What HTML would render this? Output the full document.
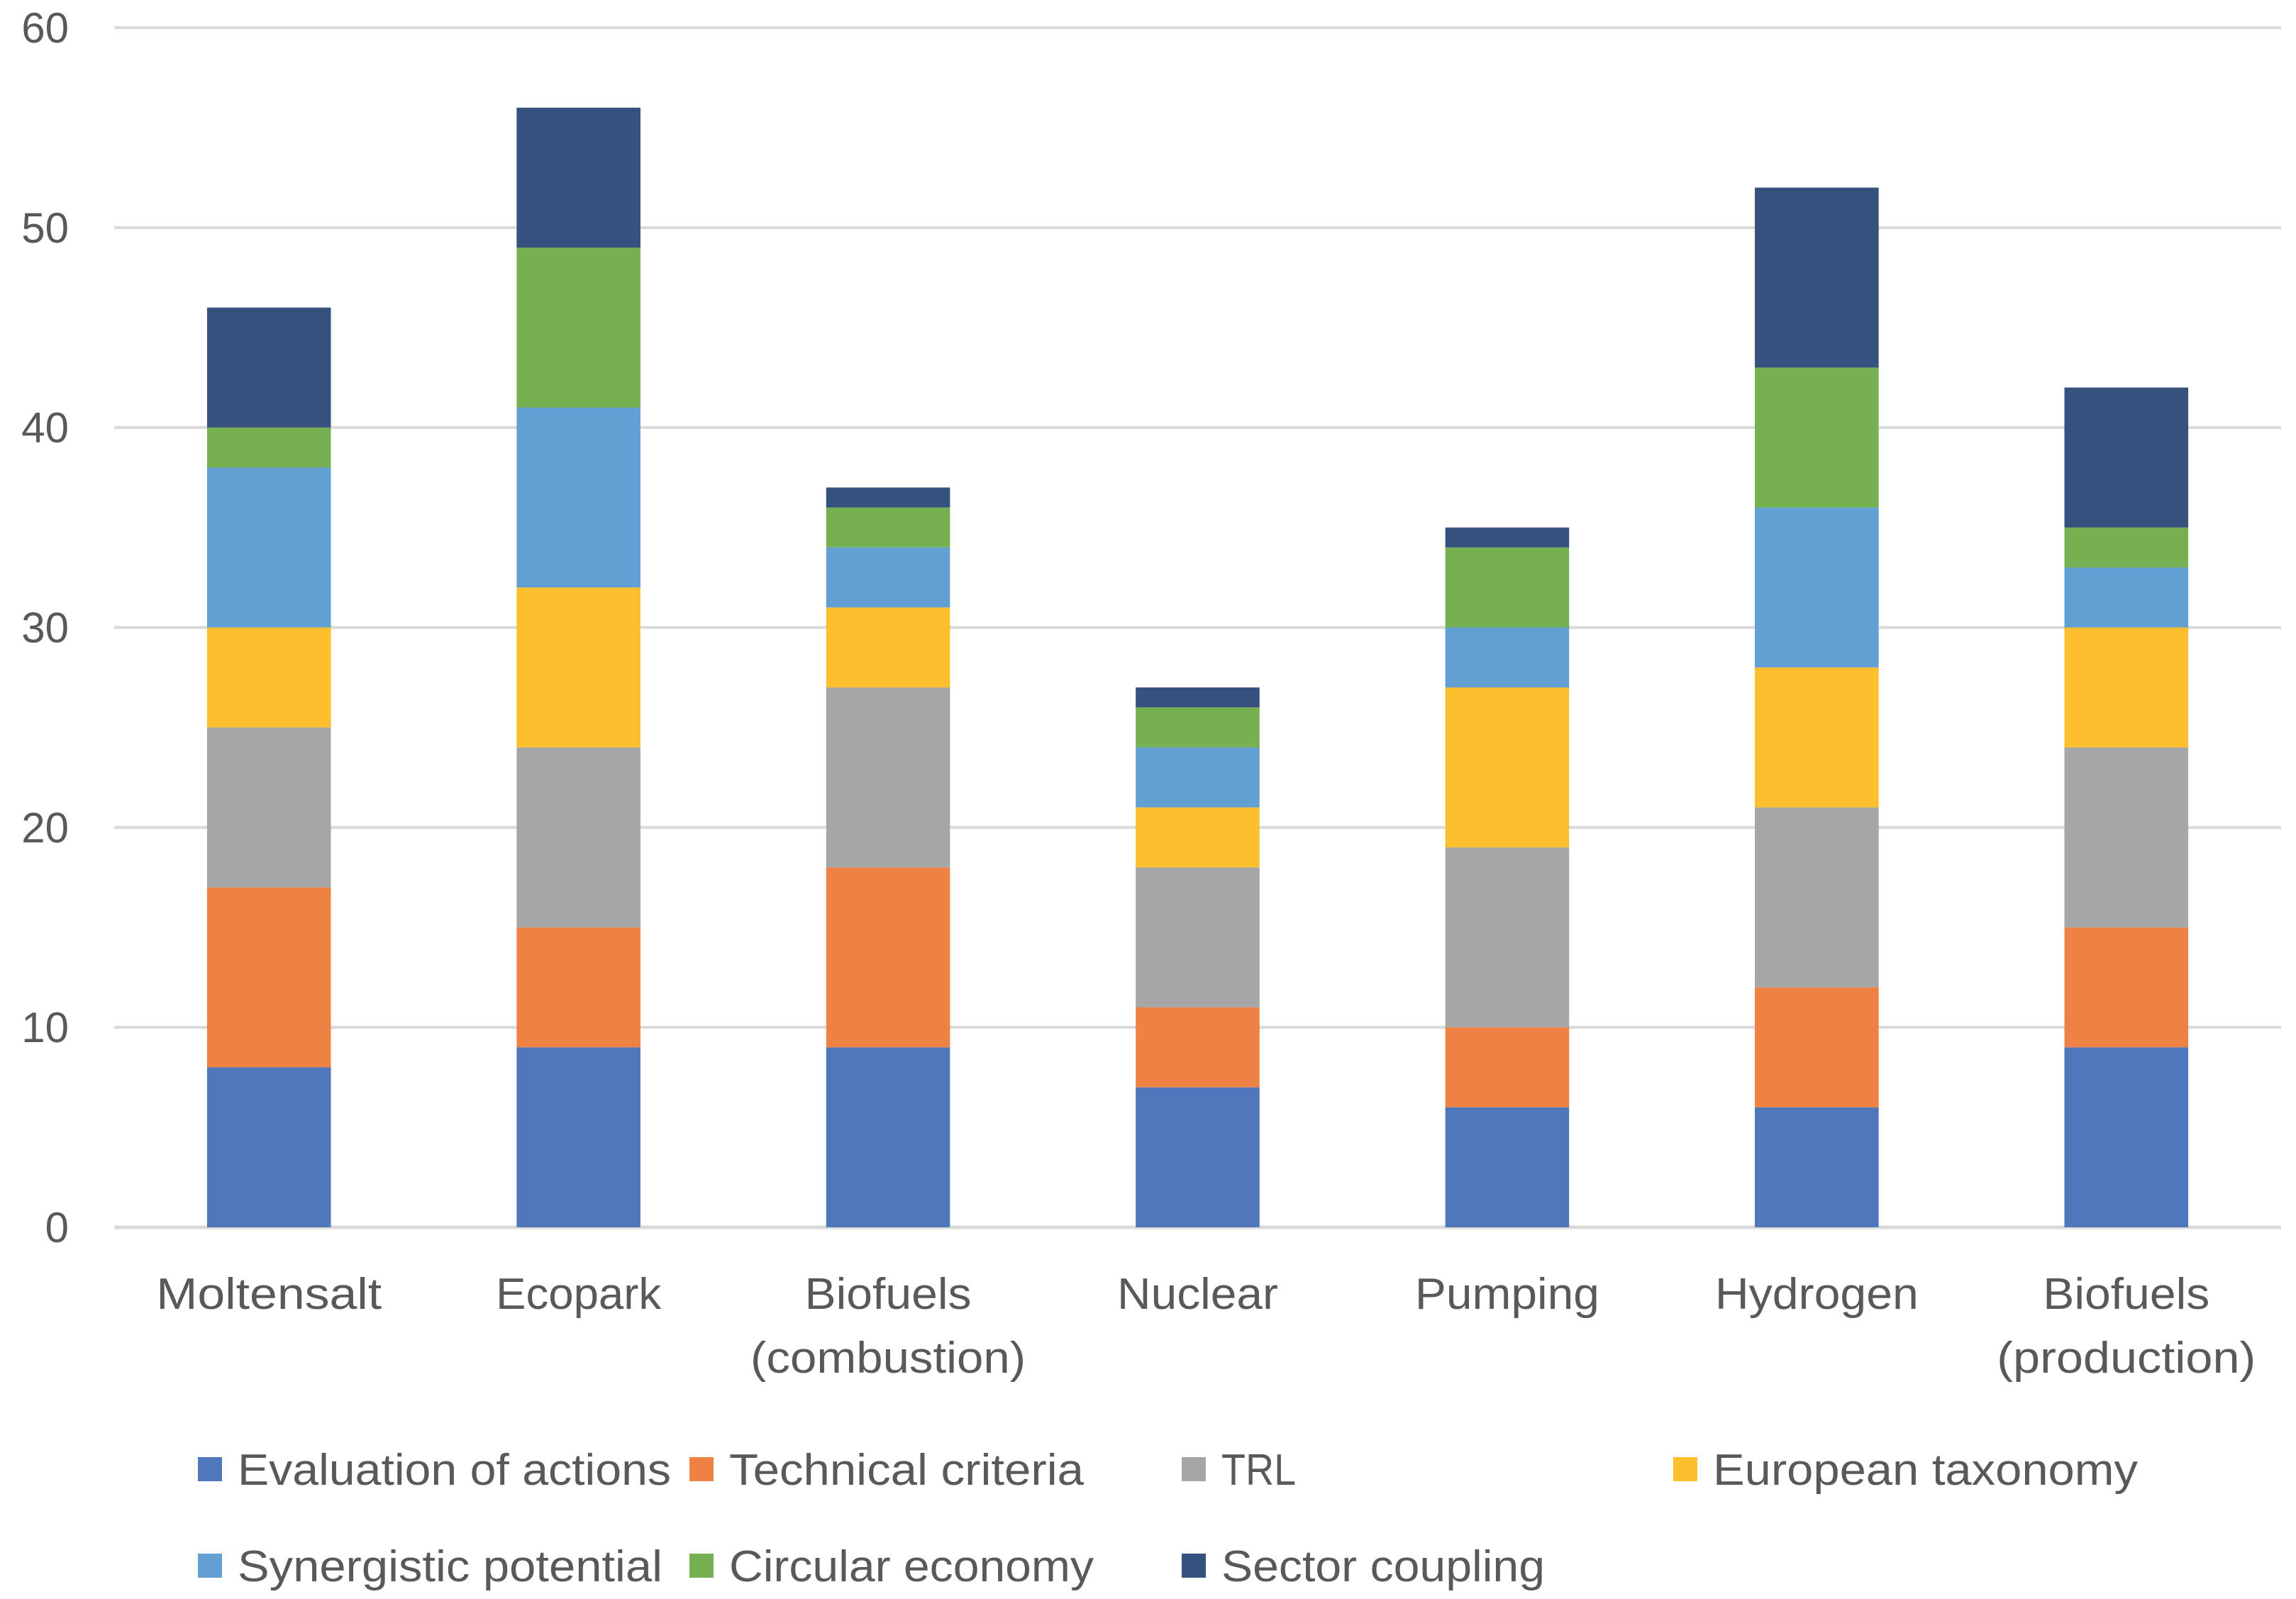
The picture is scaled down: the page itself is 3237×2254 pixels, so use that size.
<!DOCTYPE html>
<html><head><meta charset="utf-8"><style>
html,body{margin:0;padding:0;background:#fff;}
svg{display:block;font-family:"Liberation Sans",sans-serif;}
</style></head><body>
<svg id="chart" width="3237" height="2254" viewBox="0 0 3237 2254" xmlns="http://www.w3.org/2000/svg">
<g id="grid"></g>
<g id="yaxis"></g>
<g id="bars"></g>
<g id="xaxis"></g>
<g id="legend"></g>
</svg>
<script>
const categories = [["Moltensalt"],["Ecopark"],["Biofuels","(combustion)"],["Nuclear"],["Pumping"],["Hydrogen"],["Biofuels","(production)"]];
const seriesNames = ["Evaluation of actions","Technical criteria","TRL","European taxonomy","Synergistic potential","Circular economy","Sector coupling"];
const seriesColors = ["#5077b9","#ee8242","#a6a6a6","#fdbf2d","#629fd3","#76b051","#37517e"];
const evaluation = [8,9,9,7,6,6,9];
const technical = [9,6,9,4,4,6,6];
const trl = [8,9,9,7,9,9,9];
const taxonomy = [5,8,4,3,8,7,6];
const synergistic = [8,9,3,3,3,8,3];
const circular = [2,8,2,2,4,7,2];
const coupling = [6,7,1,1,1,9,7];
const yTicks = [0,10,20,30,40,50,60];

const series = [evaluation,technical,trl,taxonomy,synergistic,circular,coupling];
const labelWidths = {"Moltensalt":318,"Ecopark":233,"Biofuels":235,"(combustion)":388,"Nuclear":227,"Pumping":260,"Hydrogen":287,"(production)":365};
const legendWidths = [611,500,105,599,599,514,456];
const NS = "http://www.w3.org/2000/svg";
const plotL = 161, plotR = 3216, y0 = 1730, y60 = 39;
const yScale = v => y0 - (v/60)*(y0-y60);
const band = (plotR-plotL)/categories.length;
const xCenter = i => plotL + band*(i+0.5);
const barW = band*0.4;
function mk(tag, attrs, parent){const e=document.createElementNS(NS,tag);for(const k in attrs)e.setAttribute(k,attrs[k]);parent.appendChild(e);return e;}
const grid=document.getElementById('grid'), yax=document.getElementById('yaxis'), bars=document.getElementById('bars'), xax=document.getElementById('xaxis'), leg=document.getElementById('legend');
yTicks.forEach(t=>{
  const l=mk('line',{x1:plotL,x2:plotR,y1:yScale(t),y2:yScale(t),stroke:'#d9d9d9','stroke-width':t===0?5:4},grid);
  
  
  const tx=mk('text',{x:97,y:yScale(t)+21,'text-anchor':'end','font-size':60,fill:'#595959'},yax);
  tx.textContent=t;
  
  
});
categories.forEach((c,i)=>{
  let cum=0;
  series.forEach((s,j)=>{
    const v=s[i];
    const r=mk('rect',{x:xCenter(i)-barW/2,y:yScale(cum+v),width:barW,height:yScale(cum)-yScale(cum+v),fill:seriesColors[j]},bars);
    
    
    cum+=v;
  });
  c.forEach((line,k)=>{
    const tx=mk('text',{x:xCenter(i),y:1845+k*90,'text-anchor':'middle','font-size':62,fill:'#595959',textLength:labelWidths[line],lengthAdjust:'spacingAndGlyphs'},xax);
    tx.textContent=line;
    
    
  });
});
const legX=[279,972,1666,2359], legY=[2071,2207];
seriesNames.forEach((n,j)=>{
  const row=j<4?0:1, col=j<4?j:j-4;
  const g=mk('g',{},leg);
  
  
  mk('rect',{x:legX[col],y:legY[row]-17,width:34,height:34,fill:seriesColors[j]},g);
  const tx=mk('text',{x:legX[col]+56,y:legY[row]+22,'font-size':62,fill:'#595959',textLength:legendWidths[j],lengthAdjust:'spacingAndGlyphs'},g);
  tx.textContent=n;
});
</script>
</body></html>
